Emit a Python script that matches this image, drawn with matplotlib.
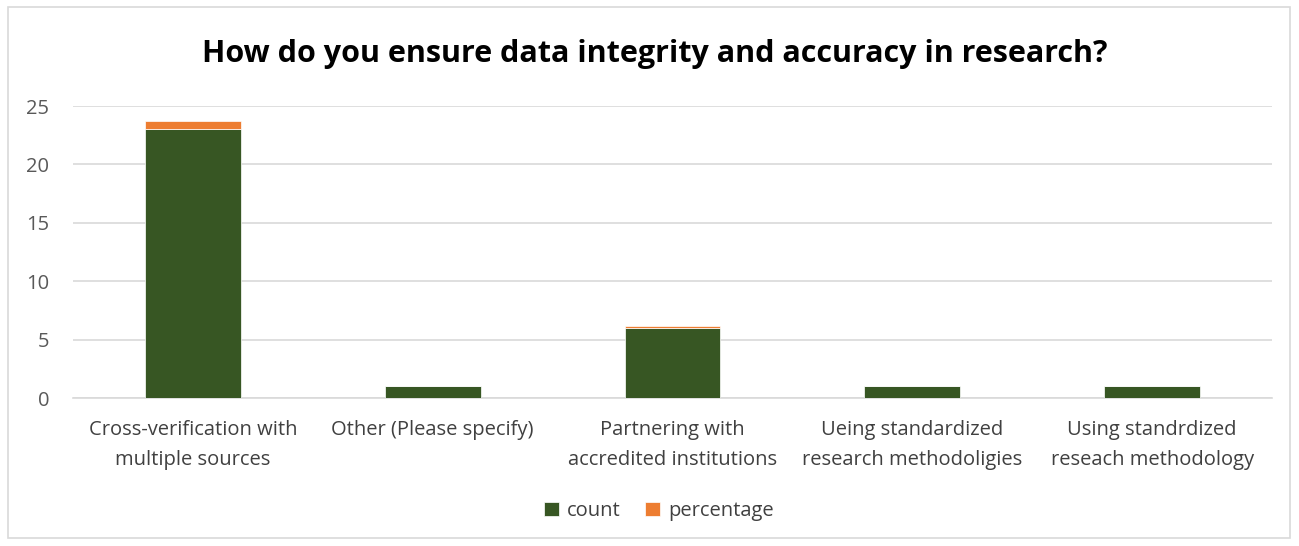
import matplotlib
matplotlib.use("Agg")
import matplotlib.pyplot as plt
from matplotlib.patches import Rectangle

# Chart data
categories = ["Cross-verification with\nmultiple sources",
              "Other (Please specify)",
              "Partnering with\naccredited institutions",
              "Ueing standardized\nresearch methodoligies",
              "Using standrdized\nreseach methodology"]
count = [23, 1, 6, 1, 1]
percentage = [0.72, 0.03, 0.19, 0.03, 0.03]

green = "#375623"
orange = "#ED7D31"
grid_c = "#D9D9D9"
text_c = "#595959"

plt.rcParams['font.family'] = ['Open Sans', 'DejaVu Sans']

fig = plt.figure(figsize=(12.99, 5.46), dpi=100)
ax = fig.add_axes([73 / 1299, 1 - 398 / 546, (1272 - 73) / 1299, (398 - 106) / 546])

x = list(range(len(categories)))
ax.bar(x, count, width=0.4, color=green, edgecolor="white", linewidth=0.5, label="count", zorder=3)
ax.bar(x, percentage, width=0.4, bottom=count, color=orange, edgecolor="white", linewidth=0.5,
       label="percentage", zorder=3)

ax.set_xlim(-0.5, len(categories) - 0.5)
ax.set_ylim(0, 25)
ax.set_yticks([0, 5, 10, 15, 20, 25])
ax.yaxis.grid(True, color=grid_c, linewidth=1.2, zorder=0)
for s in ["top", "right", "left"]:
    ax.spines[s].set_visible(False)
ax.spines["bottom"].set_color(grid_c)
ax.spines["bottom"].set_linewidth(1.2)
ax.tick_params(axis="both", length=0, labelsize=14.5, colors=text_c)
ax.set_xticks(x)
ax.set_xticklabels(categories, color="#404040", linespacing=1.65)
ax.tick_params(axis="x", pad=16)
ax.tick_params(axis="y", pad=17)

fig.suptitle("How do you ensure data integrity and accuracy in research?",
             x=655 / 1299, y=1 - 54 / 546, va="center", fontsize=22, fontweight="bold")

leg = fig.legend(loc="center", bbox_to_anchor=(659 / 1299, 1 - 511 / 546), ncol=2, frameon=False,
                 fontsize=14.5, handlelength=0.75, handleheight=0.75, handletextpad=0.4,
                 columnspacing=1.2)
for t in leg.get_texts():
    t.set_color("#404040")

# chart border
fig.patches.append(Rectangle((8 / 1299, 8 / 546), 1282 / 1299, 531 / 546, transform=fig.transFigure,
                             fill=False, edgecolor=grid_c, linewidth=1.2))

fig.savefig("out.png", dpi=100)
